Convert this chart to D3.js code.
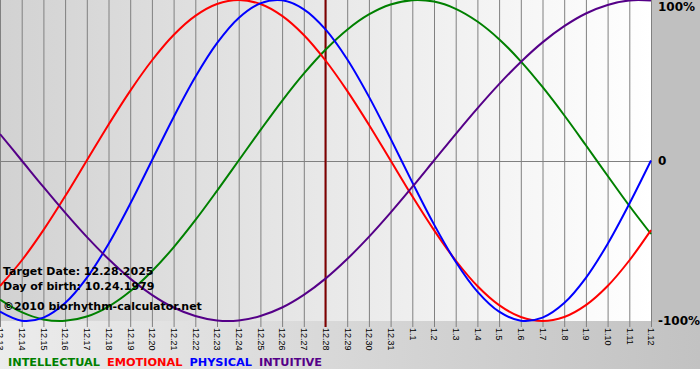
<!DOCTYPE html>
<html><head><meta charset="utf-8">
<script src="https://cdn.jsdelivr.net/npm/d3@7"></script>
<style>body{margin:0;background:#fff}svg{display:block}</style>
</head><body><div id="chart"></div>
<script>
const days = ["12.13","12.14","12.15","12.16","12.17","12.18","12.19","12.20","12.21","12.22","12.23","12.24","12.25","12.26","12.27","12.28","12.29","12.30","12.31","1.1","1.2","1.3","1.4","1.5","1.6","1.7","1.8","1.9","1.10","1.11","1.12"];
const intellectual = [-0.866,-0.945,-0.990,-0.999,-0.972,-0.910,-0.815,-0.690,-0.541,-0.372,-0.189,0,0.189,0.372,0.541,0.690,0.815,0.910,0.972,0.999,0.990,0.945,0.866,0.756,0.618,0.458,0.282,0.095,-0.095,-0.282,-0.458];
const emotional = [-0.782,-0.623,-0.434,-0.223,0,0.223,0.434,0.623,0.782,0.901,0.975,1,0.975,0.901,0.782,0.623,0.434,0.223,0,-0.223,-0.434,-0.623,-0.782,-0.901,-0.975,-1,-0.975,-0.901,-0.782,-0.623,-0.434];
const physical = [-0.942,-0.998,-0.979,-0.888,-0.731,-0.520,-0.270,0,0.270,0.520,0.731,0.888,0.979,0.998,0.942,0.817,0.631,0.398,0.136,-0.136,-0.398,-0.631,-0.817,-0.942,-0.998,-0.979,-0.888,-0.731,-0.520,-0.270,0];
const intuitive = [0.165,0,-0.165,-0.325,-0.476,-0.614,-0.736,-0.837,-0.916,-0.969,-0.997,-0.997,-0.969,-0.916,-0.837,-0.736,-0.614,-0.476,-0.325,-0.165,0,0.165,0.325,0.476,0.614,0.736,0.837,0.916,0.969,0.997,0.997];
const seriesNames = ["INTELLECTUAL","EMOTIONAL","PHYSICAL","INTUITIVE"];
const seriesColors = ["#008000","#ff0000","#0000ff","#550088"];
const yTicks = [1,0,-1];
const yTickLabels = ["100%","0","-100%"];
const targetDay = "12.28";
const infoLines = ["Target Date: 12.28.2025","Day of birth: 10.24.1979","\u00a92010 biorhythm-calculator.net"];

const W=700,H=380, plotW=651, plotH=321;
const svg=d3.select("#chart").append("svg").attr("width",W).attr("height",H);
const defs=svg.append("defs");
const g1=defs.append("linearGradient").attr("id","plotbg").attr("x1","0").attr("x2","1").attr("y1","0").attr("y2","0");
g1.append("stop").attr("offset","0").attr("stop-color","#d2d2d2");
g1.append("stop").attr("offset","1").attr("stop-color","#ffffff");
const g2=defs.append("linearGradient").attr("id","botbg").attr("x1","0").attr("x2","1").attr("y1","0").attr("y2","0");
g2.append("stop").attr("offset","0").attr("stop-color","#ececec");
g2.append("stop").attr("offset","1").attr("stop-color","#c2c2c2");

svg.append("rect").attr("x",0).attr("y",plotH).attr("width",W).attr("height",369-plotH).attr("fill","url(#botbg)");
svg.append("rect").attr("x",plotW).attr("y",0).attr("width",W-plotW).attr("height",plotH+1).attr("fill","#c0c0c0");
svg.append("rect").attr("x",0).attr("y",0).attr("width",plotW).attr("height",plotH).attr("fill","url(#plotbg)");

const x=d3.scalePoint().domain(days).range([0,plotW]);
const y=d3.scaleLinear().domain([-1,1]).range([plotH,0]);

const xa=svg.append("g").attr("transform",`translate(0,${plotH})`)
  .call(d3.axisBottom(x).tickSizeInner(-plotH).tickSizeOuter(0).tickPadding(0));
xa.select(".domain").remove();
xa.selectAll(".tick line").attr("stroke","#808080").attr("y2",-plotH).attr("y1",6);
xa.selectAll(".tick text").attr("transform","rotate(90)").attr("text-anchor","start")
  .attr("x",7).attr("y",0).attr("dy","0.35em")
  .attr("font-family","Liberation Sans, Arial, sans-serif").attr("font-size",9).attr("fill","#000");

svg.append("line").attr("x1",0).attr("x2",plotW).attr("y1",Math.round(y(0))+0.5).attr("y2",Math.round(y(0))+0.5).attr("stroke","#808080");

svg.append("line").attr("x1",x(targetDay)).attr("x2",x(targetDay)).attr("y1",0).attr("y2",plotH+6)
  .attr("stroke","#800000").attr("stroke-width",2);

const line=d3.line().x((d,i)=>x(days[i])).y(d=>y(d)).curve(d3.curveCatmullRom.alpha(0.5));
const allSeries=[intellectual,emotional,physical,intuitive];
svg.selectAll("path.s").data(allSeries).enter().append("path").attr("class","s")
  .attr("d",line).attr("fill","none").attr("stroke",(d,i)=>seriesColors[i]).attr("stroke-width",2);

svg.selectAll("text.yl").data(yTicks).enter().append("text").attr("class","yl")
  .attr("x",658).attr("y",d=>Math.min(Math.max(y(d),6.5),322)).attr("dy","0.35em")
  .attr("font-family","DejaVu Sans, Verdana, sans-serif").attr("font-weight","bold").attr("font-size",12)
  .text((d,i)=>yTickLabels[i]);

svg.selectAll("text.info").data(infoLines).enter().append("text").attr("class","info")
  .attr("x",3).attr("y",(d,i)=>[275,290,310][i])
  .attr("font-family","DejaVu Sans, Verdana, sans-serif").attr("font-weight","bold").attr("font-size",11)
  .attr("fill","#000").text(d=>d);

let lx=8;
seriesNames.forEach((n,i)=>{
  const t=svg.append("text").attr("x",lx).attr("y",366)
    .attr("font-family","DejaVu Sans, Verdana, sans-serif").attr("font-weight","bold").attr("font-size",11.3)
    .attr("fill",seriesColors[i]).text(n);
  lx+=t.node().getComputedTextLength()+7;
});
</script></body></html>
